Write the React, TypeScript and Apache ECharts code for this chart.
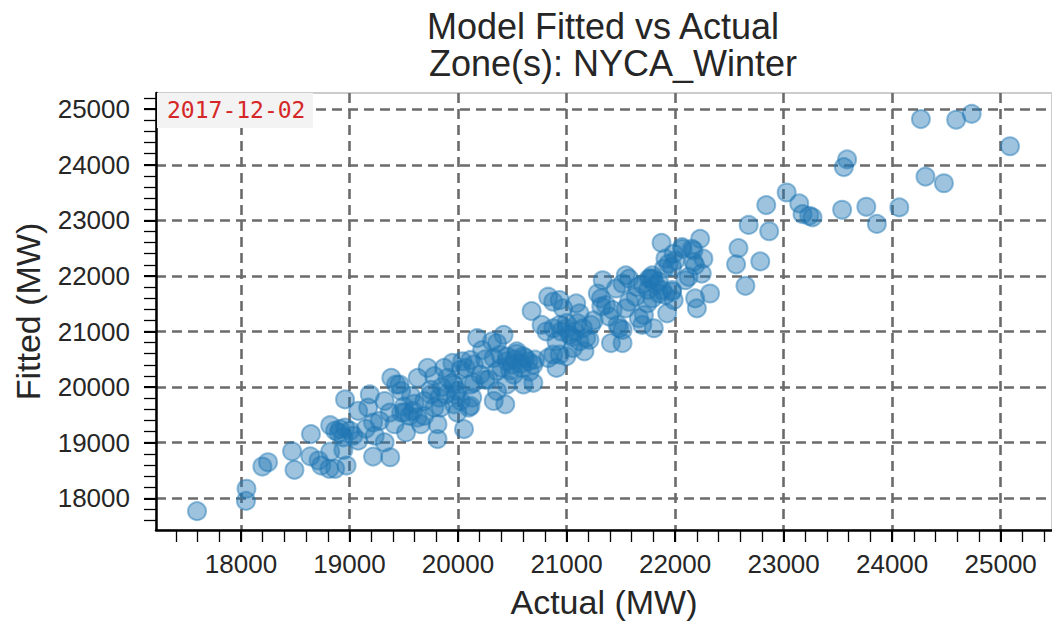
import React, { useEffect, useRef } from "react";
import * as echarts from "echarts";

// Actual (MW) values, one per point
const actual = [
  17595, 18051, 18046, 18197, 18249, 18471, 18493, 18645, 18639, 18715,
  18740, 18813, 18868, 18822, 18973, 18943, 18822, 18959, 18868, 18913,
  18959, 19005, 19035, 18943, 19080, 19080, 19172, 19187, 19217, 19233,
  19324, 19217, 19375, 19278, 19324, 19385, 19430, 19476, 19370, 19415,
  19476, 19521, 19552, 19583, 19628, 19658, 19628, 19567, 19720, 19750,
  19781, 19811, 19811, 19689, 19826, 19872, 19902, 19948, 19978, 19994,
  20055, 20070, 20115, 20146, 20176, 20222, 20252, 19963, 20024, 19461,
  19507, 19689, 19781, 19841, 19948, 19994, 20039, 20100, 20131, 20206,
  19963, 19887, 20024, 20115, 20146, 20283, 20115, 20313, 20359, 20420,
  20329, 20389, 20450, 20496, 20541, 20603, 20648, 20694, 20587, 20511,
  20359, 20329, 20435, 20359, 20694, 20603, 20709, 20450, 20678, 20831,
  20877, 20937, 20968, 21089, 21119, 20770, 20815, 20877, 20937, 20998,
  21028, 21074, 21119, 21181, 21226, 21151, 20907, 20877, 20937, 20998,
  20907, 20831, 21165, 21059, 21211, 21288, 21333, 21318, 21363, 21425,
  21455, 21516, 21546, 21576, 21409, 21516, 21485, 21470, 21516, 21576,
  21546, 21393, 21667, 21713, 21698, 21759, 21790, 21820, 21850, 21790,
  21881, 21911, 21927, 21972, 21987, 21804, 21744, 21637, 21875, 21911,
  21941, 21987, 22003, 22064, 22094, 22124, 22170, 22170, 22231, 22261,
  22246, 22185, 22201, 22322, 21972, 22069, 22155, 22185, 21972, 21896,
  21774, 22562, 22584, 22648, 22678, 22785, 22867, 22840, 23028, 23144,
  23174, 23236, 23266, 23555, 23585, 23539, 23762, 23859, 24066, 24265,
  24307, 24477, 24590, 24733, 25086,
  20450, 20520, 20580, 20620, 20400, 20480, 20540, 21000, 21050, 20950,
  21100, 21700, 21750, 21850, 21800, 21650, 19500, 19600, 19750, 19850,
  20250, 20660, 21250, 21320, 19150, 18900,
];

// Fitted (MW) values, same order as actual
const fitted = [
  17768, 18171, 17952, 18571, 18648, 18845, 18511, 19154, 18755, 18679,
  18589, 18529, 18529, 18839, 18589, 18868, 19314, 19779, 19214, 19243,
  19273, 19214, 19125, 19095, 19036, 19572, 19631, 19868, 19363, 19125,
  19006, 18750, 18738, 19393, 19750, 20166, 20047, 19929, 19541, 19332,
  19541, 19184, 19482, 19572, 19452, 19332, 20166, 19839, 20345, 19868,
  19631, 19332, 19064, 19482, 19809, 20345, 20166, 20434, 19868, 19541,
  19243, 20345, 20488, 20077, 20881, 20666, 20131, 20047, 19750, 20047,
  19541, 19750, 20197, 19631, 20077, 19929, 20465, 19631, 19809, 20225,
  19690, 19868, 20315, 19661, 20404, 20136, 20047, 20822, 20792, 20940,
  20524, 20583, 20465, 20404, 20643, 20554, 20465, 20404, 20345, 20225,
  20286, 19750, 19690, 19929, 20077, 20047, 20493, 20047, 21368, 21626,
  21536, 21565, 21417, 21506, 21327, 21118, 21000, 21059, 21118, 21059,
  20940, 21000, 20822, 20881, 21118, 21059, 20822, 20583, 20583, 20554,
  20345, 20524, 20643, 20702, 20850, 21684, 21922, 21595, 21476, 21386,
  21774, 21863, 22011, 21952, 20792, 20792, 21059, 21118, 21029, 21536,
  21417, 21268, 21238, 21297, 21118, 21952, 22011, 21833, 21684, 21595,
  21743, 21654, 21327, 21743, 21565, 21059, 21506, 21626, 22595, 22310,
  22220, 22399, 22279, 22519, 21922, 21983, 22251, 22458, 22667, 22310,
  22042, 21595, 21417, 21684, 22161, 22488, 22488, 22190, 21715, 22131,
  21952, 22208, 22501, 21822, 22917, 22261, 22804, 23274, 23501, 23304,
  23113, 23083, 23054, 23958, 24096, 23190, 23244, 22935, 23233, 24822,
  23787, 23667, 24810, 24917, 24333,
  20550, 20500, 20420, 20520, 20350, 20300, 20600, 21150, 20900, 21000,
  21150, 21850, 21750, 21900, 21950, 21800, 19650, 19700, 19950, 20000,
  20500, 20280, 21200, 21450, 19250, 19180,
];

const xMajorTicks = [18000, 19000, 20000, 21000, 22000, 23000, 24000, 25000];
const yMajorTicks = [18000, 19000, 20000, 21000, 22000, 23000, 24000, 25000];
const titleLines = ["Model Fitted vs Actual", "Zone(s): NYCA_Winter"];
const dateLabel = "2017-12-02";

const X_MIN = 17217;
const X_MAX = 25473;
const Y_MIN = 17429;
const Y_MAX = 25291;
const MINOR_STEP = 200;

function minorTicks(min: number, max: number, step: number): number[] {
  const out: number[] = [];
  for (let v = Math.ceil(min / step) * step; v <= max; v += step) out.push(v);
  return out;
}

const FONT = "Liberation Sans, Arial, sans-serif";
const TEXT = "#262626";
const plain = (v: number) => String(v);

export default function App() {
  const ref = useRef<HTMLDivElement>(null);

  useEffect(() => {
    if (!ref.current) return;
    const chart = echarts.init(ref.current, undefined, { renderer: "svg" });
    const points = actual.map((a, i) => [a, fitted[i]]);
    const gridLine = { show: true, lineStyle: { color: "#6b6b6b", width: 2.6, type: [10, 6] as number[] } };

    chart.setOption({
      animation: false,
      backgroundColor: "#ffffff",
      grid: {
        left: 156,
        top: 93,
        width: 904,
        height: 440,
        show: true,
        borderColor: "#cccccc",
        borderWidth: 2,
        backgroundColor: "transparent",
      },
      xAxis: [
        {
          type: "value",
          min: X_MIN,
          max: X_MAX,
          splitNumber: 8,
          position: "bottom",
          axisLine: { show: true, onZero: false, lineStyle: { color: "#000", width: 2.5 } },
          axisTick: { show: true, customValues: xMajorTicks, length: 12, lineStyle: { color: "#000", width: 2 } },
          axisLabel: {
            customValues: xMajorTicks,
            formatter: plain,
            fontSize: 26,
            color: TEXT,
            fontFamily: FONT,
            margin: 21,
          },
          splitLine: gridLine,
          name: "Actual (MW)",
          nameLocation: "middle",
          nameGap: 55,
          nameTextStyle: { fontSize: 34, color: TEXT, fontFamily: FONT },
        },
        {
          type: "value",
          min: X_MIN,
          max: X_MAX,
          position: "bottom",
          axisLine: { show: false, onZero: false },
          axisTick: {
            show: true,
            customValues: minorTicks(X_MIN, X_MAX, MINOR_STEP),
            length: 12,
            lineStyle: { color: "#000", width: 1.3 },
          },
          axisLabel: { show: false },
          splitLine: { show: false },
        },
      ],
      yAxis: [
        {
          type: "value",
          min: Y_MIN,
          max: Y_MAX,
          splitNumber: 8,
          position: "left",
          axisLine: { show: true, onZero: false, lineStyle: { color: "#000", width: 2.5 } },
          axisTick: { show: true, customValues: yMajorTicks, length: 12, lineStyle: { color: "#000", width: 2 } },
          axisLabel: {
            customValues: yMajorTicks,
            formatter: plain,
            fontSize: 26,
            color: TEXT,
            fontFamily: FONT,
            margin: 26,
          },
          splitLine: gridLine,
          name: "Fitted (MW)",
          nameLocation: "middle",
          nameGap: 111,
          nameTextStyle: { fontSize: 34, color: TEXT, fontFamily: FONT },
        },
        {
          type: "value",
          min: Y_MIN,
          max: Y_MAX,
          position: "left",
          axisLine: { show: false, onZero: false },
          axisTick: {
            show: true,
            customValues: minorTicks(Y_MIN, Y_MAX, MINOR_STEP),
            length: 12,
            lineStyle: { color: "#000", width: 1.3 },
          },
          axisLabel: { show: false },
          splitLine: { show: false },
        },
      ],
      series: [
        {
          type: "scatter",
          xAxisIndex: 0,
          yAxisIndex: 0,
          data: points,
          symbol: "circle",
          symbolSize: 18,
          itemStyle: {
            color: "rgba(31,119,180,0.55)",
            borderColor: "rgba(31,119,180,0.6)",
            borderWidth: 2,
          },
          emphasis: { disabled: true },
        },
      ],
      graphic: [
        {
          type: "text",
          x: 603,
          y: 26,
          style: {
            text: titleLines[0],
            fontSize: 36,
            fontFamily: FONT,
            fill: TEXT,
            textAlign: "center",
            textVerticalAlign: "middle",
          },
        },
        {
          type: "text",
          x: 613,
          y: 63.5,
          style: {
            text: titleLines[1],
            fontSize: 36,
            fontFamily: FONT,
            fill: TEXT,
            textAlign: "center",
            textVerticalAlign: "middle",
          },
        },
        {
          type: "rect",
          z: 100,
          shape: { x: 157, y: 93, width: 156, height: 35 },
          style: { fill: "#f3f3f3" },
        },
        {
          type: "text",
          z: 101,
          x: 167,
          y: 110,
          style: {
            text: dateLabel,
            fontSize: 23,
            fontFamily: "DejaVu Sans Mono, monospace",
            fill: "#d62728",
            textAlign: "left",
            textVerticalAlign: "middle",
          },
        },
      ],
    });

    return () => {
      chart.dispose();
    };
  }, []);

  return (
    <div
      ref={ref}
      style={{ position: "absolute", left: 0, top: 0, width: 1052, height: 624, background: "#fff" }}
    />
  );
}
